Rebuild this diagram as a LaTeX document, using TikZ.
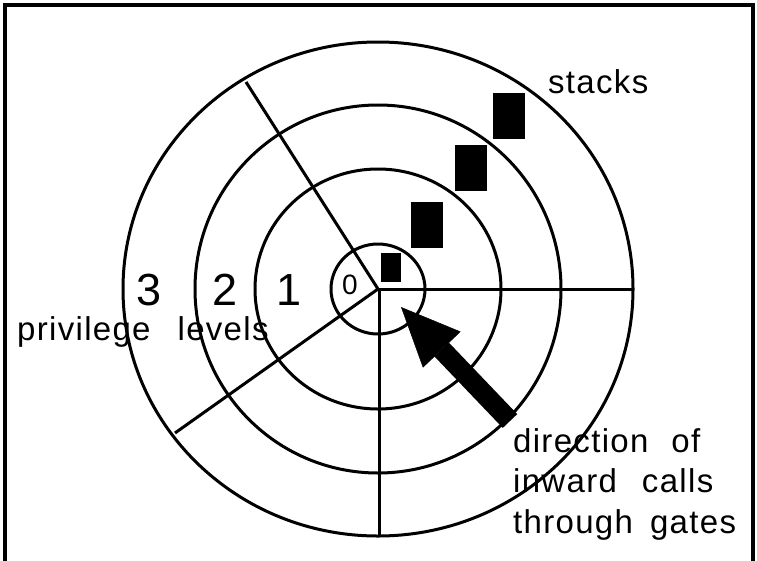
\documentclass[tikz,border=0pt]{standalone}
\usepackage{fontspec}
\setmainfont{Liberation Sans}
\newfontfamily\lblfont[LetterSpace=4]{Liberation Sans}
\usetikzlibrary{arrows.meta}
\begin{document}
\begin{tikzpicture}[x=1pt,y=-1pt,
  ring/.style={line width=3pt},
  lbl/.style={anchor=base west,inner sep=0pt,font=\fontsize{33}{40}\lblfont},
  lvl/.style={anchor=base west,inner sep=0pt,font=\fontsize{45}{45}\selectfont}]
  \useasboundingbox (0,0) rectangle (757,560);
  \draw[line width=4pt] (5,5) rectangle (753,566);
  \coordinate (c) at (378,289);
  \foreach \rx/\ry in {47/45,123/120,183/184,255/247}
    \draw[ring] (c) ellipse[x radius=\rx,y radius=\ry];
  \coordinate (cr) at (379,289);
  \coordinate (upl) at (246,82);
  \coordinate (lol) at (175,433);
  \coordinate (bot) at (379,537);
  \coordinate (rgt) at (633,289);
  \draw[ring] (upl) -- (c) -- (lol);
  \draw[ring] (cr) -- (bot);
  \draw[ring] (cr) -- (rgt);
  \fill (381,253) rectangle (401,282);
  \fill (411,202) rectangle (443,248);
  \fill (455,145) rectangle (487,191);
  \fill (493,93) rectangle (525,139);
  \node[lbl] (stk) at (548,93) {stacks};
  \node[lbl] (priv) at (17,340) {privilege\hspace{27pt}levels};
  \node[lvl] (lv3) at (136,305) {3};
  \node[lvl] (lv2) at (212,305) {2};
  \node[lvl] (lv1) at (276,305) {1};
  \node[lvl,font=\fontsize{28}{28}\selectfont] (lv0) at (342,294) {0};
  \coordinate (tail) at (510,421);
  \coordinate (tip) at (401,307);
  \draw[line width=20pt,-{Triangle[length=59pt,width=52pt,line width=0.5pt]}] (tail) -- (tip);
  \node[lbl] (dir) at (513,452) {direction\hspace{23pt}of};
  \node[lbl] (inw) at (513,492) {inward\hspace{25pt}calls};
  \node[lbl] (thr) at (513,533) {through\hspace{17pt}gates};
\end{tikzpicture}
\end{document}
